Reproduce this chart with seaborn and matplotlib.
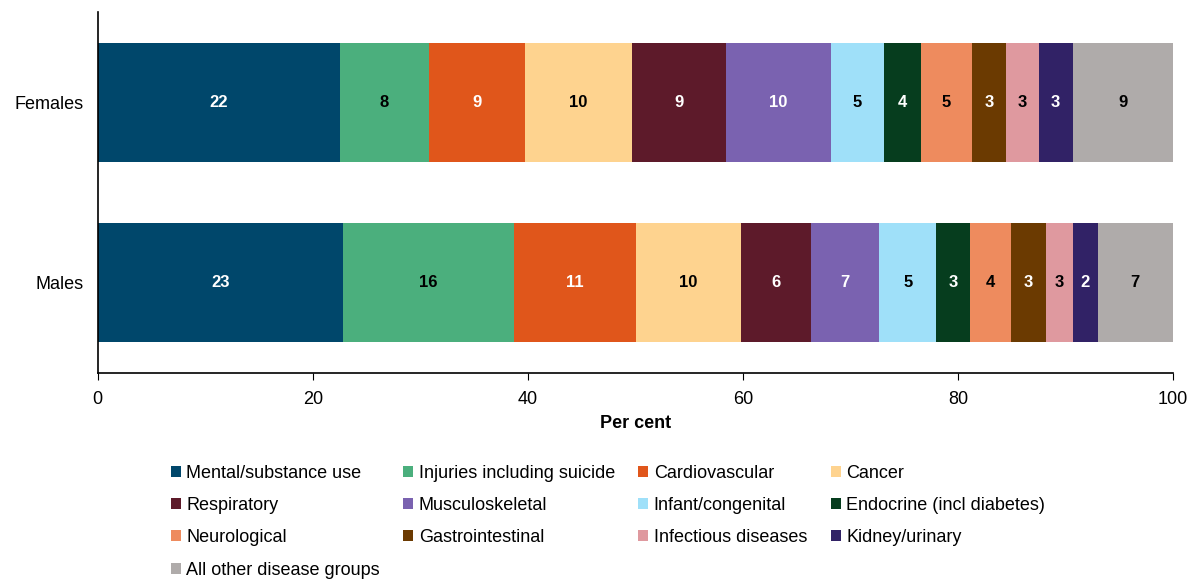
import matplotlib
matplotlib.use("Agg")
import matplotlib.pyplot as plt
from matplotlib.patches import Patch
import numpy as np
import pandas as pd
import seaborn as sns

groups = ["Females", "Males"]
diseases = [
    "Mental/substance use", "Injuries including suicide", "Cardiovascular", "Cancer",
    "Respiratory", "Musculoskeletal", "Infant/congenital", "Endocrine (incl diabetes)",
    "Neurological", "Gastrointestinal", "Infectious diseases", "Kidney/urinary",
    "All other disease groups",
]
females = [22.5, 8.3, 8.9, 10.0, 8.7, 9.8, 4.9, 3.5, 4.7, 3.2, 3.0, 3.2, 9.3]
males = [22.8, 15.9, 11.4, 9.7, 6.5, 6.4, 5.3, 3.1, 3.8, 3.3, 2.5, 2.3, 7.0]
females_lbl = [22, 8, 9, 10, 9, 10, 5, 4, 5, 3, 3, 3, 9]
males_lbl = [23, 16, 11, 10, 6, 7, 5, 3, 4, 3, 3, 2, 7]

colors = [
    "#00476B", "#4BAF7D", "#E0561B", "#FED38F", "#5D1A2A", "#7A62B0", "#9FE0F9",
    "#063D1E", "#EE8B5E", "#6B3A01", "#DF999F", "#312266", "#AFABAA",
]
text_colors = ["white", "black", "white", "black", "white", "white", "black",
               "white", "black", "white", "black", "white", "black"]

plt.rcParams["font.family"] = ["Liberation Sans", "DejaVu Sans"]
fig, ax = plt.subplots(figsize=(11.92, 5.8), dpi=100)
fig.subplots_adjust(left=0.082, right=0.984, top=0.979, bottom=0.357)

cum_f = np.cumsum(females)
cum_m = np.cumsum(males)

# draw cumulative bars from the last group backwards so each shorter one sits on top
for i in range(len(diseases) - 1, -1, -1):
    df = pd.DataFrame({"group": groups, "value": [cum_f[i], cum_m[i]]})
    sns.barplot(data=df, x="value", y="group", orient="h", color=colors[i],
                width=0.66, saturation=1, edgecolor="none", linewidth=0, ax=ax)

for row, (vals, cums, lbls) in enumerate([(females, cum_f, females_lbl),
                                          (males, cum_m, males_lbl)]):
    for i in range(len(diseases)):
        ax.text(cums[i] - vals[i] / 2, row, str(lbls[i]), ha="center", va="center",
                fontsize=12, fontweight="bold", color=text_colors[i])

ax.set_xlim(0, 100)
ax.set_ylim(1.5, -0.5)
ax.set_xticks([0, 20, 40, 60, 80, 100])
ax.set_xlabel("Per cent", fontsize=13, fontweight="bold", labelpad=5)
ax.set_ylabel("")
ax.tick_params(axis="x", labelsize=13, length=5, pad=8, color="black")
ax.tick_params(axis="y", labelsize=13, length=0, pad=10)
for s in ["top", "right"]:
    ax.spines[s].set_visible(False)
for s in ["left", "bottom"]:
    ax.spines[s].set_color("black")
    ax.spines[s].set_linewidth(1.2)

# legend filled row-wise like the original (matplotlib fills by column)
ncol = 4
order = []
for c in range(ncol):
    order.extend(range(c, len(diseases), ncol))
handles = [Patch(facecolor=colors[i], label=diseases[i]) for i in order]
fig.legend(handles=handles, loc="upper center", bbox_to_anchor=(0.51, 0.227),
           ncol=ncol, frameon=False, fontsize=13, handlelength=0.55, handleheight=0.55,
           handletextpad=0.3, columnspacing=1.3, labelspacing=0.85)

fig.savefig("out.png", dpi=100)
